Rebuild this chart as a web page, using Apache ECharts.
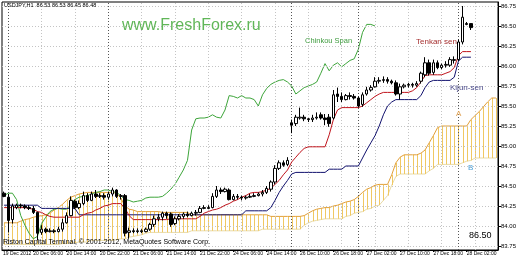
<!DOCTYPE html>
<html><head><meta charset="utf-8">
<script src="https://cdn.jsdelivr.net/npm/echarts@6/dist/echarts.min.js"></script>
<style>html,body{margin:0;padding:0;background:#fff}#c{width:520px;height:260px}</style>
</head><body><div id="c"></div>
<script>
// trading sessions (day, first hour, last hour) -> hourly categories; 28 Dec includes 6 future slots
const sessions = [['19 Dec',23,23],['20 Dec',0,23],['21 Dec',0,23],['24 Dec',0,19],['26 Dec',8,23],['27 Dec',0,23],['28 Dec',0,9]];
const categories = [];
sessions.forEach(([d,a,b]) => { for (let h=a; h<=b; h++) categories.push(d+' '+String(h).padStart(2,'0')+':00'); });

const firstDateLabel = '19 Dec 2012';
const xTickCats = ['20 Dec 06:00','20 Dec 14:00','20 Dec 22:00','21 Dec 06:00','21 Dec 14:00','21 Dec 22:00','24 Dec 06:00','24 Dec 14:00','26 Dec 10:00','26 Dec 18:00','27 Dec 02:00','27 Dec 10:00','27 Dec 18:00','28 Dec 02:00'];
const gridCats = ['20 Dec 00:00','20 Dec 08:00','20 Dec 16:00','21 Dec 00:00','21 Dec 08:00','21 Dec 16:00','24 Dec 00:00','24 Dec 08:00','24 Dec 16:00','26 Dec 12:00','26 Dec 20:00','27 Dec 04:00','27 Dec 12:00','27 Dec 20:00','28 Dec 04:00'];
const sepCats = ['20 Dec 00:00','21 Dec 00:00','26 Dec 08:00','27 Dec 00:00','28 Dec 00:00'];
const yTicks = [83.75,84.00,84.25,84.50,84.75,85.00,85.25,85.50,85.75,86.00,86.25,86.50,86.75];
const lastBid = 86.48;

// [open, close, low, high]
const candles = [
[84.41,84.37,84.36,84.43],[84.36,84.07,83.92,84.40],[84.08,84.25,84.03,84.28],[84.23,84.26,84.21,84.28],[84.26,84.25,84.22,84.28],
[84.25,84.23,84.21,84.27],[84.23,84.22,84.20,84.26],[84.22,84.17,84.15,84.25],[84.17,83.91,83.82,84.18],[83.92,83.96,83.89,84.01],
[83.96,83.93,83.91,83.98],[83.93,83.94,83.92,83.97],[83.94,83.93,83.91,83.96],[83.93,83.96,83.92,83.99],[83.96,84.04,83.93,84.09],
[84.04,84.13,84.03,84.17],[84.13,84.32,84.12,84.37],[84.31,84.23,84.21,84.33],[84.23,84.28,84.21,84.32],[84.28,84.38,84.26,84.43],
[84.38,84.32,84.30,84.41],[84.32,84.40,84.31,84.43],[84.40,84.37,84.35,84.45],[84.37,84.38,84.35,84.41],[84.38,84.36,84.33,84.41],
[84.36,84.40,84.33,84.43],[84.40,84.45,84.37,84.48],[84.45,84.37,84.35,84.46],[84.37,84.38,84.33,84.40],[84.38,83.91,83.87,84.40],
[83.92,83.94,83.84,83.98],[83.94,83.93,83.91,83.97],[83.93,83.94,83.91,83.97],[83.94,83.93,83.91,83.96],[83.93,83.96,83.92,83.98],
[83.96,84.02,83.94,84.04],[84.02,84.09,83.99,84.13],[84.09,84.11,84.06,84.15],[84.11,84.16,84.07,84.18],[84.16,84.13,84.09,84.18],
[84.15,84.02,83.99,84.17],[84.03,84.09,84.01,84.12],[84.09,84.12,84.07,84.15],[84.12,84.15,84.09,84.17],[84.15,84.13,84.11,84.18],
[84.13,84.16,84.12,84.18],[84.16,84.17,84.13,84.20],[84.17,84.22,84.16,84.25],[84.22,84.23,84.21,84.26],[84.23,84.22,84.21,84.26],
[84.23,84.37,84.22,84.41],[84.37,84.45,84.35,84.50],[84.45,84.43,84.40,84.48],[84.43,84.46,84.42,84.48],[84.45,84.33,84.32,84.47],
[84.33,84.37,84.32,84.40],[84.37,84.36,84.33,84.40],[84.36,84.35,84.32,84.38],[84.35,84.36,84.33,84.38],[84.36,84.37,84.35,84.40],
[84.37,84.38,84.36,84.41],[84.38,84.40,84.37,84.42],[84.40,84.42,84.37,84.45],[84.42,84.47,84.40,84.50],[84.46,84.55,84.43,84.57],
[84.55,84.72,84.52,84.76],[84.72,84.79,84.70,84.82],[84.79,84.76,84.74,84.82],[84.77,84.82,84.75,84.86],[85.29,85.26,85.16,85.33],
[85.28,85.36,85.25,85.39],[85.35,85.36,85.33,85.48],[85.36,85.34,85.31,85.39],[85.34,85.33,85.30,85.35],[85.33,85.35,85.30,85.39],
[85.35,85.36,85.33,85.42],[85.39,85.35,85.33,85.42],[85.35,85.33,85.26,85.40],[85.36,85.28,85.24,85.40],[85.35,85.64,85.33,85.70],
[85.65,85.62,85.55,85.73],[85.62,85.58,85.55,85.67],[85.58,85.63,85.57,85.65],[85.63,85.62,85.58,85.67],[85.62,85.60,85.58,85.65],
[85.60,85.50,85.48,85.62],[85.52,85.64,85.49,85.67],[85.65,85.70,85.63,85.74],[85.70,85.73,85.68,85.76],[85.74,85.81,85.73,85.86],
[85.81,85.82,85.78,85.86],[85.82,85.83,85.79,85.87],[85.83,85.81,85.78,85.86],[85.81,85.79,85.77,85.83],[85.79,85.65,85.63,85.82],
[85.65,85.74,85.58,85.78],[85.74,85.76,85.72,85.78],[85.76,85.77,85.73,85.79],[85.77,85.76,85.73,85.79],[85.76,85.78,85.74,85.81],
[85.81,85.91,85.78,85.93],[85.89,86.04,85.86,86.11],[86.04,85.91,85.88,86.08],[85.92,86.04,85.89,86.08],[86.04,85.98,85.96,86.07],
[85.98,86.01,85.96,86.03],[86.01,86.02,85.98,86.06],[86.01,86.08,85.99,86.11],[86.07,86.08,86.03,86.12],[86.08,86.30,86.06,86.33],
[86.30,86.61,86.27,86.75],[86.53,86.52,86.51,86.55],[86.53,86.48,86.45,86.53]
];

const tenkan = [84.23,84.23,84.23,84.23,84.23,84.23,84.22,84.21,84.18,84.17,
84.14,84.12,84.11,84.11,84.11,84.11,84.11,84.11,84.11,84.14,
84.16,84.17,84.20,84.22,84.25,84.26,84.28,84.28,84.28,84.22,
84.13,84.08,84.08,84.08,84.08,84.08,84.08,84.08,84.08,84.08,
84.09,84.09,84.09,84.09,84.09,84.09,84.09,84.12,84.16,84.18,
84.20,84.21,84.23,84.26,84.28,84.31,84.33,84.36,84.38,84.41,
84.42,84.42,84.43,84.45,84.47,84.52,84.57,84.64,84.70,84.80,
84.86,84.92,84.97,84.99,84.99,84.99,84.99,84.99,85.14,85.33,
85.45,85.48,85.48,85.48,85.48,85.48,85.50,85.54,85.58,85.62,
85.65,85.67,85.67,85.67,85.67,85.67,85.67,85.67,85.69,85.73,
85.80,85.88,85.89,85.89,85.89,85.89,85.91,85.93,85.98,86.13,
86.18,86.18,86.18];

const kijun = [84.26,84.26,84.26,84.26,84.26,84.26,84.26,84.26,84.26,84.22,
84.22,84.22,84.22,84.22,84.22,84.22,84.22,84.22,84.14,84.14,
84.14,84.14,84.14,84.14,84.14,84.14,84.14,84.14,84.14,84.14,
84.14,84.14,84.14,84.14,84.14,84.14,84.14,84.14,84.14,84.14,
84.14,84.14,84.14,84.14,84.14,84.14,84.14,84.14,84.14,84.14,
84.14,84.14,84.14,84.14,84.14,84.14,84.14,84.14,84.19,84.19,
84.19,84.19,84.19,84.19,84.23,84.32,84.42,84.50,84.57,84.65,
84.67,84.67,84.67,84.67,84.67,84.67,84.67,84.67,84.71,84.71,
84.71,84.71,84.75,84.75,84.75,84.75,84.85,84.95,85.04,85.13,
85.25,85.39,85.50,85.55,85.58,85.58,85.58,85.58,85.58,85.58,
85.63,85.73,85.80,85.82,85.82,85.82,85.82,85.82,85.86,86.06,
86.11,86.11,86.11];

const chinkou = [84.38,84.41,84.41,84.33,84.13,84.01,83.91,83.84,83.87,84.03,
84.11,84.18,84.21,84.22,84.21,84.21,84.27,84.33,84.36,84.37,
84.38,84.40,84.42,84.43,84.45,84.45,84.43,84.42,84.38,84.33,
84.32,84.30,84.31,84.32,84.35,84.36,84.36,84.36,84.37,84.41,
84.46,84.52,84.61,84.70,84.82,85.20,85.34,85.35,85.35,85.36,
85.39,85.36,85.35,85.45,85.63,85.62,85.60,85.63,85.60,85.60,
85.58,85.50,85.64,85.72,85.77,85.80,85.82,85.83,85.80,85.75,
85.65,85.69,85.73,85.75,85.77,85.80,85.91,86.03,85.94,86.01,
86.04,85.99,86.03,86.07,86.09,86.21,86.42,86.52,86.52,86.50];

const senkouA = [84.04,84.04,84.04,84.04,84.06,84.08,84.09,84.11,84.12,84.13,
84.14,84.16,84.20,84.23,84.27,84.32,84.36,84.38,84.40,84.41,
84.42,84.42,84.42,84.42,84.42,84.42,84.42,84.41,84.35,84.25,
84.21,84.20,84.18,84.18,84.18,84.18,84.18,84.18,84.17,84.17,
84.17,84.17,84.17,84.17,84.17,84.14,84.14,84.14,84.14,84.14,
84.14,84.14,84.14,84.14,84.14,84.14,84.14,84.14,84.14,84.14,
84.14,84.14,84.14,84.14,84.12,84.12,84.12,84.12,84.12,84.12,
84.12,84.12,84.13,84.16,84.19,84.21,84.22,84.23,84.23,84.25,
84.26,84.28,84.30,84.31,84.33,84.37,84.42,84.46,84.48,84.51,
84.52,84.52,84.52,84.64,84.79,84.86,84.89,84.89,84.89,84.89,
84.91,84.95,85.04,85.13,85.23,85.25,85.25,85.25,85.25,85.25,
85.25,85.25,85.33,85.38,85.43,85.49,85.55,85.60,85.60];

const senkouB = [83.77,83.77,83.77,83.77,83.77,83.77,83.77,83.77,83.77,83.77,
83.77,83.77,83.77,83.77,83.78,83.78,83.79,83.79,83.80,83.80,
83.80,83.82,83.82,83.82,83.82,83.82,83.82,83.83,83.84,83.84,
83.86,83.87,83.88,83.89,83.91,83.92,83.92,83.92,83.92,83.92,
83.92,83.92,83.92,83.92,83.92,83.94,83.94,83.94,83.94,83.94,
83.94,83.94,83.94,83.94,83.94,83.94,83.94,83.94,83.94,83.94,
83.94,83.94,83.96,83.96,83.96,83.96,83.96,83.96,83.96,83.96,
83.96,83.96,84.01,84.04,84.06,84.07,84.08,84.09,84.09,84.09,
84.09,84.09,84.12,84.13,84.16,84.17,84.18,84.21,84.22,84.25,
84.26,84.32,84.38,84.51,84.62,84.65,84.65,84.65,84.65,84.65,
84.65,84.65,84.69,84.72,84.77,84.77,84.77,84.77,84.77,84.77,
84.79,84.81,84.82,84.85,84.85,84.85,84.85,84.85,84.85];

const cloudData = senkouA.map((a,i) => [i, a, senkouB[i]]);
const FONT = 'Liberation Sans';
const isQuarter = v => Math.abs(v*4 - Math.round(v*4)) < 1e-6;

const gridLine = {color:'#c4c4c4', width:1, type:[1,2]};
const sepLine = {color:'#555', width:1, type:[1,2]};

const chart = echarts.init(document.getElementById('c'), null, {renderer:'canvas'});
chart.setOption({
  animation:false,
  backgroundColor:'#fff',
  grid:{left:2, right:22, top:2, bottom:10, show:true, borderColor:'#000', borderWidth:1},
  xAxis:{type:'category', data:categories, boundaryGap:true,
    axisLine:{show:true, lineStyle:{color:'#000'}},
    axisTick:{show:true, alignWithLabel:true, length:2, interval:(i,v)=>xTickCats.includes(v), lineStyle:{color:'#000'}},
    axisLabel:{show:true, showMinLabel:true, showMaxLabel:true, hideOverlap:false, interval:(i,v)=>xTickCats.includes(v), formatter:v=>xTickCats.includes(v) ? v : '', fontSize:5, fontFamily:FONT, color:'#000', align:'left', margin:1},
    splitLine:{show:false}},
  yAxis:{type:'value', position:'right', min:83.70, max:86.80, interval:0.05, scale:true,
    axisLine:{show:true, lineStyle:{color:'#000'}},
    axisTick:{show:true, length:3, lineStyle:{color:'#000'}, customValues:yTicks},
    axisLabel:{fontSize:6, fontFamily:FONT, color:'#000', margin:3, customValues:yTicks, formatter:v=>isQuarter(v)?v.toFixed(2):''},
    splitLine:{show:false}},
  graphic:[
    {type:'text', left:4, top:2, z:100, style:{text:'USDJPY,H1  86.53 86.53 86.45 86.48', fontSize:5.5, fontFamily:FONT, fill:'#000'}},
    {type:'text', left:3, top:251, z:100, style:{text:firstDateLabel, fontSize:5, fontFamily:FONT, fill:'#000'}},
    {type:'text', left:122, top:18, z:100, style:{text:'www.FreshForex.ru', fontSize:16, fontFamily:FONT, fill:'#60b658'}},
    {type:'text', left:305, top:37, z:100, style:{text:'Chinkou Span', fontSize:7.5, fontFamily:FONT, fill:'#3f9c3f'}},
    {type:'text', left:416, top:38, z:100, style:{text:'Tenkan sen', fontSize:8, fontFamily:FONT, fill:'#a53030'}},
    {type:'text', left:450, top:84, z:100, style:{text:'Kijun-sen', fontSize:8, fontFamily:FONT, fill:'#4a4a8a'}},
    {type:'text', left:456, top:110, z:100, style:{text:'A', fontSize:8, fontFamily:FONT, fill:'#e0a050'}},
    {type:'text', left:468, top:164, z:100, style:{text:'B', fontSize:8, fontFamily:FONT, fill:'#4aa0d8'}},
    {type:'text', left:3, top:239, z:100, style:{text:'Riston Capital Terminal, © 2001-2012, MetaQuotes Software Corp.', fontSize:7, fontFamily:FONT, fill:'#000'}},
    {type:'text', left:469, top:231, z:100, style:{text:'86.50', fontSize:9, fontFamily:FONT, fill:'#000'}}
  ],
  series:[
    {name:'Senkou B', type:'line', data:senkouB, z:1, symbol:'none', lineStyle:{color:'#e8dba8', width:1},
      markLine:{silent:true, symbol:'none', label:{show:false}, animation:false,
        data:[].concat(
          gridCats.map(c=>({xAxis:c, lineStyle:gridLine})),
          yTicks.map(v=>({yAxis:v, lineStyle:gridLine})),
          sepCats.map(c=>({xAxis:c, lineStyle:sepLine}))
        )}},
    {name:'Cloud', type:'custom', z:2, data:cloudData, encode:{x:0, y:[1,2]},
      renderItem:(params, api) => {
        const p1 = api.coord([api.value(0), api.value(1)]);
        const p2 = api.coord([api.value(0), api.value(2)]);
        const x = Math.round(p1[0]) + 0.5;
        return {type:'line', shape:{x1:x, y1:p1[1], x2:x, y2:p2[1]}, style:{stroke:'#f0c862', lineWidth:1}};
      }},
    {name:'Senkou A', type:'line', data:senkouA, z:3, symbol:'none', lineStyle:{color:'#e2a03a', width:1}},
    {name:'Chinkou Span', type:'line', data:chinkou, z:4, symbol:'none', lineStyle:{color:'#3da53a', width:1}},
    {name:'Kijun-sen', type:'line', data:kijun, z:5, symbol:'none', lineStyle:{color:'#12126e', width:1}},
    {name:'Tenkan-sen', type:'line', data:tenkan, z:5, symbol:'none', lineStyle:{color:'#c0141c', width:1}},
    {name:'USDJPY', type:'candlestick', data:candles, z:6, barWidth:3,
      itemStyle:{color:'#fff', color0:'#000', borderColor:'#000', borderColor0:'#000', borderWidth:1},
      markLine:{silent:true, symbol:'none', animation:false, lineStyle:{opacity:0},
        label:{show:true, position:'end', distance:2, formatter:lastBid.toFixed(2), color:'#fff', backgroundColor:'#000', fontSize:6, fontFamily:FONT, padding:[1,2,1,2]},
        data:[{yAxis:lastBid}]}}
  ]
});
</script></body></html>
